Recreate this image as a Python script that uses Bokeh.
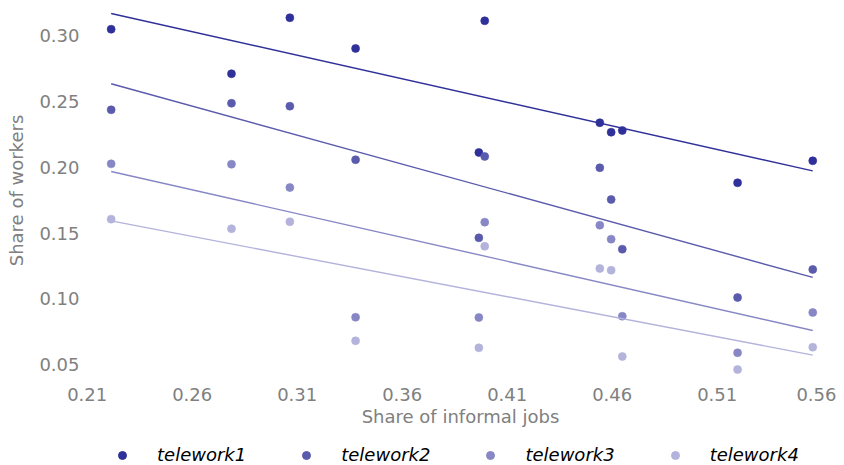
import numpy as np
from bokeh.plotting import figure
from bokeh.layouts import column
from bokeh.models import Range1d, FixedTicker, PrintfTickFormatter, Legend, LegendItem
from bokeh.embed import file_html
from bokeh.resources import INLINE

# Data
informal = [0.2214, 0.2787, 0.3065, 0.3378, 0.3965, 0.3993, 0.4541, 0.4595, 0.4648, 0.5197, 0.5555]
telework1 = [0.3048, 0.2710, 0.3135, 0.2902, 0.2112, 0.3112, 0.2338, 0.2266, 0.2279, 0.1882, 0.2049]
telework2 = [0.2436, 0.2486, 0.2464, 0.2057, 0.1464, 0.2082, 0.1996, 0.1755, 0.1378, 0.1011, 0.1224]
telework3 = [0.2026, 0.2023, 0.1846, 0.0861, 0.0859, 0.1583, 0.1560, 0.1454, 0.0869, 0.0591, 0.0897]
telework4 = [0.1606, 0.1533, 0.1586, 0.0682, 0.0629, 0.1400, 0.1231, 0.1218, 0.0563, 0.0464, 0.0634]

series_names = ["telework1", "telework2", "telework3", "telework4"]
series_values = [telework1, telework2, telework3, telework4]
colors = ["#30309a", "#5b5bad", "#8787c5", "#b3b3dc"]

x_ticks = [0.21, 0.26, 0.31, 0.36, 0.41, 0.46, 0.51, 0.56]
y_ticks = [0.05, 0.10, 0.15, 0.20, 0.25, 0.30]

FONT = "DejaVu Sans"
GRAY = "#808080"

p = figure(width=836, height=430,
           x_range=Range1d(0.20871, 0.56681), y_range=Range1d(0.03808, 0.32661),
           output_backend="svg", toolbar_location=None,
           min_border_left=84, min_border_right=0, min_border_top=0, min_border_bottom=50)

p.outline_line_color = None
p.grid.visible = False
p.background_fill_color = "white"
p.border_fill_color = "white"

for ax in (p.xaxis[0], p.yaxis[0]):
    ax.axis_line_color = None
    ax.major_tick_line_color = None
    ax.minor_tick_line_color = None
    ax.major_tick_out = 0
    ax.major_tick_in = 0
    ax.minor_tick_out = 0
    ax.major_label_text_font = FONT
    ax.major_label_text_font_size = "18px"
    ax.major_label_text_color = GRAY
    ax.axis_label_text_font = FONT
    ax.axis_label_text_font_size = "18px"
    ax.axis_label_text_color = GRAY
    ax.axis_label_text_font_style = "normal"
    ax.formatter = PrintfTickFormatter(format="%.2f")

p.xaxis[0].major_label_standoff = 7
p.xaxis[0].axis_label_standoff = 2
p.yaxis[0].major_label_standoff = 5
p.yaxis[0].axis_label_standoff = 9
p.xaxis[0].ticker = FixedTicker(ticks=x_ticks)
p.yaxis[0].ticker = FixedTicker(ticks=y_ticks)
p.xaxis[0].axis_label = "Share of informal jobs"
p.yaxis[0].axis_label = "Share of workers"

# Separate strip below the chart that holds the legend (its x range keeps the
# proxy markers out of view, so only the legend shows)
lf = figure(width=836, height=35, x_range=Range1d(2, 3), y_range=Range1d(0, 1),
            output_backend="svg", toolbar_location=None,
            x_axis_location=None, y_axis_location=None,
            min_border_left=0, min_border_right=0, min_border_top=0, min_border_bottom=0)
lf.outline_line_color = None
lf.grid.visible = False

xs = np.array(informal)
items = []
for name, vals, col in zip(series_names, series_values, colors):
    slope, intercept = np.polyfit(xs, np.array(vals), 1)
    lx = [xs.min(), xs.max()]
    ly = [intercept + slope * v for v in lx]
    p.line(lx, ly, line_color=col, line_width=1.4)
    p.scatter(informal, vals, size=8, fill_color=col, line_color=col, line_alpha=0.6)
    r = lf.scatter(informal, vals, size=7, fill_color=col, line_color=col)
    items.append(LegendItem(label=name, renderers=[r]))

legend = Legend(items=items, orientation="horizontal", location=(28, 0),
                label_text_font=FONT, label_text_font_size="18px",
                label_text_font_style="italic", label_text_color="black",
                label_height=20, glyph_width=20, glyph_height=20,
                label_standoff=25, spacing=50,
                padding=0, margin=0, border_line_color=None,
                background_fill_alpha=0)
lf.add_layout(legend, "center")

layout = column(p, lf, spacing=0)
open("out.html", "w").write(file_html(layout, INLINE))
